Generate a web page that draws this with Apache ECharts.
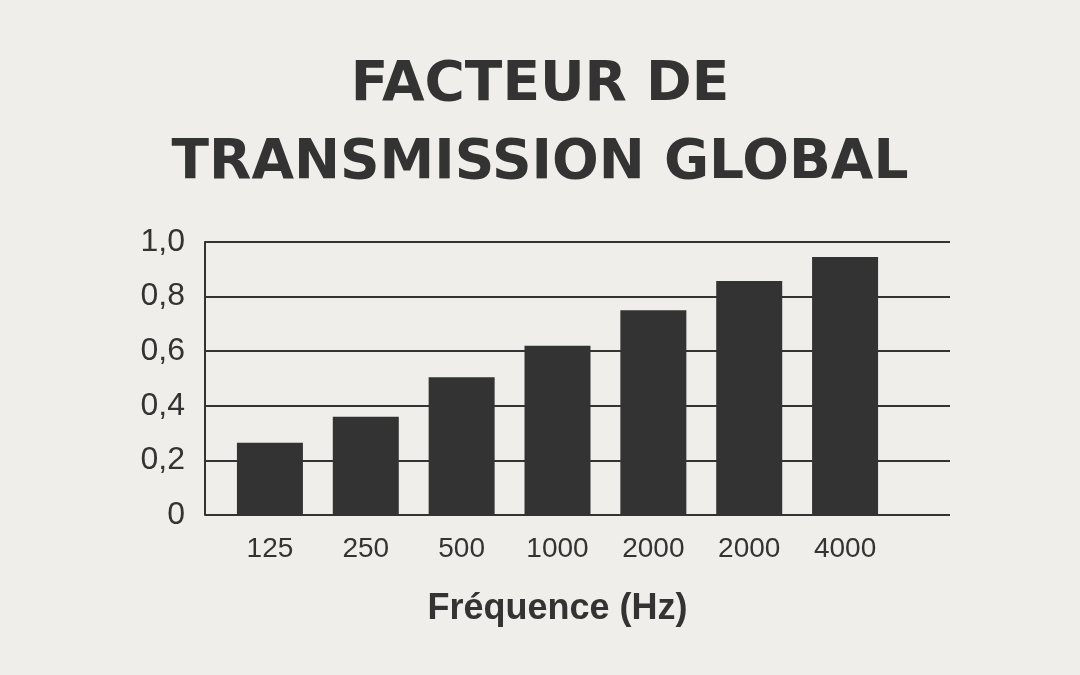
<!DOCTYPE html>
<html><head><meta charset="utf-8">
<script src="https://cdn.jsdelivr.net/npm/echarts@6/dist/echarts.min.js"></script>
<style>html,body{margin:0;background:#f0eeea}#c{width:1080px;height:675px}</style>
</head><body><div id="c"></div>
<script>
const categories=['125','250','500','1000','2000','2000','4000'];
const values=[0.265,0.36,0.505,0.62,0.75,0.857,0.945];
const yTicks=[0,0.2,0.4,0.6,0.8,1.0];
const c=echarts.init(document.getElementById('c'));
c.setOption({
 backgroundColor:'#f0eeea',
 title:{text:'FACTEUR DE\nTRANSMISSION GLOBAL',left:'center',top:42,
  textStyle:{fontFamily:'DejaVu Sans',fontWeight:'bold',fontSize:55,lineHeight:78,color:'#333'}},
 grid:[{left:205,right:130,top:242,height:273},{left:222,right:187,top:242,height:273}],
 xAxis:[{type:'value',gridIndex:0,min:0,max:1,show:false},
  {type:'category',gridIndex:1,data:categories,axisLine:{show:false},axisTick:{show:false},
   axisLabel:{fontSize:28,color:'#333',margin:20,fontFamily:'Liberation Sans'},
   name:'Fréquence (Hz)',nameLocation:'middle',nameGap:76,
   nameTextStyle:{fontSize:36,fontWeight:'bold',color:'#333',fontFamily:'Liberation Sans'}}],
 yAxis:[{type:'value',gridIndex:0,min:0,max:1,interval:0.2,
   axisLine:{show:true,lineStyle:{color:'#333',width:2}},axisTick:{show:false},
   splitLine:{lineStyle:{color:'#333',width:2}},
   axisLabel:{fontSize:32,color:'#333',margin:20,fontFamily:'Liberation Sans',
    formatter:v=>v===0?'0':v.toFixed(1).replace('.',',')}},
  {type:'value',gridIndex:1,min:0,max:1,show:false}],
 series:[{type:'bar',xAxisIndex:1,yAxisIndex:1,data:values,barWidth:66,itemStyle:{color:'#333'},z:5}]
});
</script></body></html>
